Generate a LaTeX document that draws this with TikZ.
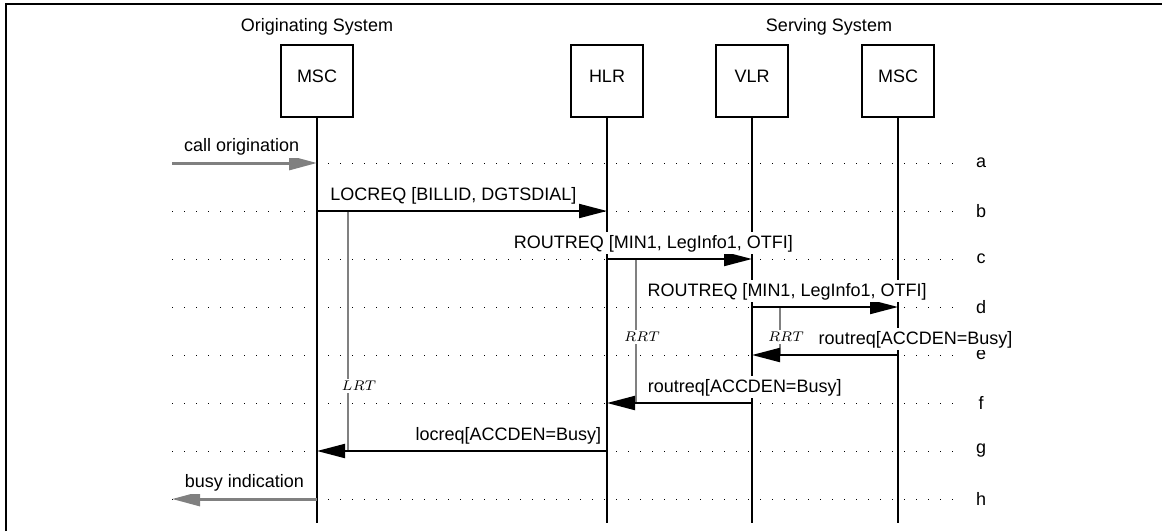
\documentclass[tikz,border=0pt]{standalone}
\usepackage{fontspec}
\setmainfont{Liberation Sans}
\usetikzlibrary{arrows.meta,positioning,calc}

\begin{document}
\begin{tikzpicture}[x=0.5pt, y=-0.5pt, font=\fontsize{9}{11}\selectfont, >={Triangle[length=14pt, width=7pt]},
  entity/.style={draw, line width=1pt, minimum width=36pt, minimum height=36pt, text height=6.5pt, text depth=5pt, inner sep=0pt},
  sysname/.style={inner sep=1pt},
  lifeline/.style={line width=1pt},
  rowline/.style={line width=0.5pt, black, dash pattern=on 0.5pt off 5.5pt},
  msg/.style={->, line width=1pt},
  extmsg/.style={->, line width=1.5pt, gray},
  timer/.style={line width=1pt, gray},
  msglabel/.style={above=2pt, fill=white, text=black, inner sep=1pt, text height=7pt, text depth=2pt},
  timerlabel/.style={fill=white, text=black, inner sep=1pt, font=\fontsize{7.5}{9}\selectfont},
  rowtag/.style={inner sep=0pt}]
  \useasboundingbox (0,0) rectangle (1162,531);
  \draw[line width=1pt] (6,531) -- (6,4) -- (1162,4);

  % entities
  \node[entity] (omsc) at (317,81) {MSC};
  \node[entity, right=108pt of omsc] (hlr) {HLR};
  \node[entity, right=35.5pt of hlr] (vlr) {VLR};
  \node[entity, right=36pt of vlr] (smsc) {MSC};
  \node[sysname, above=3.4pt of omsc] (orig) {Originating System};
  \node[sysname, above=3.4pt, xshift=2pt] (serv) at ($(vlr.north)!.5!(smsc.north)$) {Serving System};

  % rows
  \foreach \r/\y in {a/163, b/211, c/259, d/307, e/355, f/403, g/451, h/499} {
    \coordinate (l-\r) at (172,\y);
    \coordinate (r-\r) at (963,\y);
    \node[rowtag] (tag-\r) at (981,\y) {\r};
    \draw[rowline] (l-\r) -- (r-\r);
    \foreach \n in {omsc, hlr, vlr, smsc}
      \coordinate (\n-\r) at (\n |- l-\r);
  }

  % lifelines
  \foreach \n in {omsc, hlr, vlr, smsc} {
    \coordinate (\n-end) at (\n |- 0,523);
    \draw[lifeline] (\n.south) -- (\n-end);
  }

  % timers
  \draw[timer] ([xshift=15.5pt]omsc-b) -- node[timerlabel, pos=.73, xshift=5.5pt] {$LRT$} ([xshift=15.5pt]omsc-g);
  \draw[timer] ([xshift=14.5pt]hlr-c) -- node[timerlabel, pos=.54, xshift=3pt] {$RRT$} ([xshift=14.5pt]hlr-f);
  \draw[timer] ([xshift=14pt]vlr-d) -- node[timerlabel, pos=.62, xshift=3pt] {$RRT$} ([xshift=14pt]vlr-e);

  % messages
  \draw[extmsg] (l-a) -- node[msglabel, pos=.48] {call origination} (omsc-a);
  \draw[msg] (omsc-b) -- node[msglabel, pos=.47] {LOCREQ [BILLID, DGTSDIAL]} (hlr-b);
  \draw[msg] (hlr-c) -- node[msglabel, pos=.32] {ROUTREQ [MIN1, LegInfo1, OTFI]} (vlr-c);
  \draw[msg] (vlr-d) -- node[msglabel, pos=.24] {ROUTREQ [MIN1, LegInfo1, OTFI]} (smsc-d);
  \draw[msg] (smsc-e) -- node[msglabel, pos=-.12] {routreq[ACCDEN=Busy]} (vlr-e);
  \draw[msg] (vlr-f) -- node[msglabel, pos=.05] {routreq[ACCDEN=Busy]} (hlr-f);
  \draw[msg] (hlr-g) -- node[msglabel, pos=.34] {locreq[ACCDEN=Busy]} (omsc-g);
  \draw[extmsg] (omsc-h) -- node[msglabel, pos=.5] {busy indication} (l-h);
\end{tikzpicture}
\end{document}
